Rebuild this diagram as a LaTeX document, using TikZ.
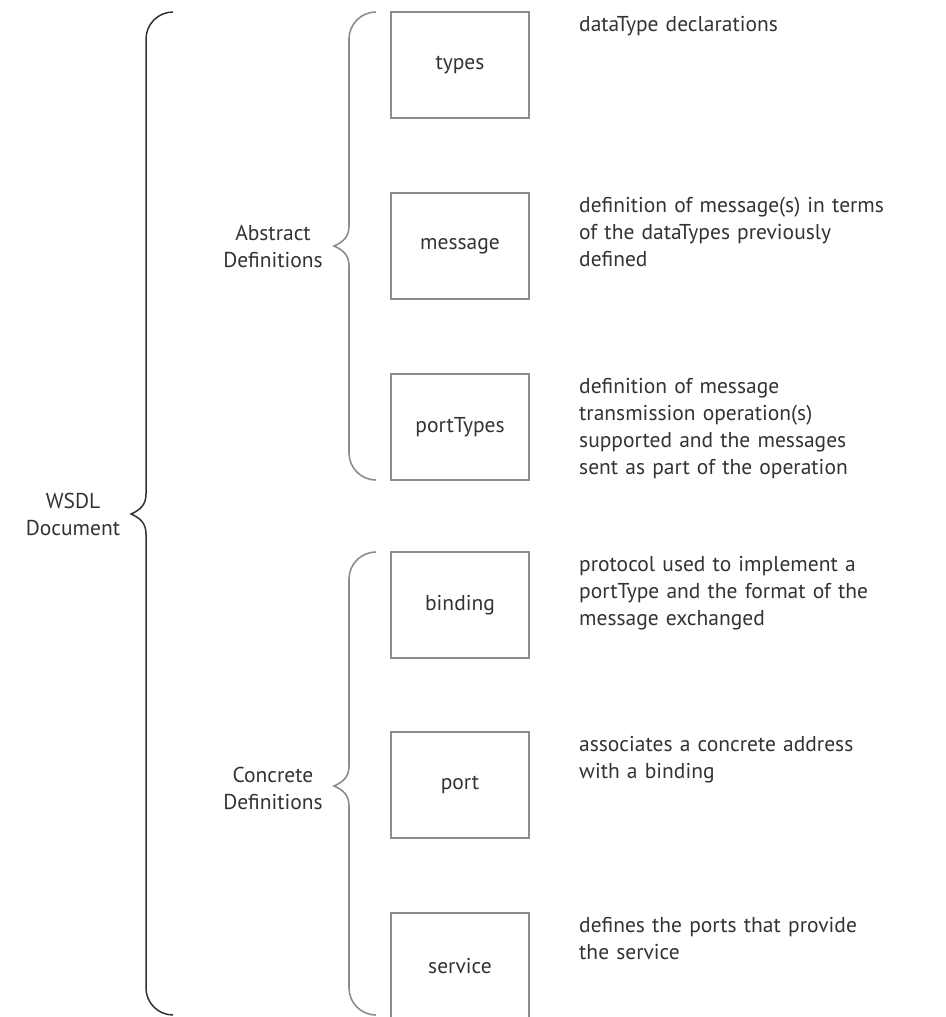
\documentclass[tikz,border=0pt]{standalone}
\usepackage{fontspec}
\setmainfont{PT Sans}
\usepackage{tikz}
\usetikzlibrary{positioning,calc}
\usepackage{xcolor}
\definecolor{ink}{HTML}{333333}
\definecolor{frame}{HTML}{8C8C8C}
\tikzset{
  part/.style  = {draw=frame, line width=1.5pt, rectangle, minimum width=138pt,
                  minimum height=106pt, align=center, text=ink},
  note/.style  = {anchor=base west, text width=360pt, align=left, inner sep=0pt, text=ink},
  group/.style = {align=center, inner sep=0pt, text=ink},
  curl/.style  = {line width=1.6pt, draw=frame},
}
% curly brace: style, line x, top y, bottom y, tip y, hook radius
\newcommand{\curly}[6]{%
  \draw[#1] (#2+#6,#3) .. controls (#2+0.45*#6,#3) and (#2,#3+0.45*#6) .. (#2,#3+#6)
    -- (#2,#5-20) .. controls (#2,#5-9) and (#2-6,#5-4) .. (#2-15,#5)
    .. controls (#2-6,#5+4) and (#2,#5+9) .. (#2,#5+20)
    -- (#2,#4-#6) .. controls (#2,#4-0.45*#6) and (#2+0.45*#6,#4) .. (#2+#6,#4);}

\begin{document}
\begin{tikzpicture}[x=1pt,y=-1pt,font=\fontsize{21.5}{27}\selectfont]
\useasboundingbox (0,0) rectangle (945,1017);
\clip (0,0) rectangle (945,1017);
% the six parts
\node[part] (types)     at (460,65)  {types};
\node[part] (message)   at (460,246) {message};
\node[part] (porttypes) at (460,427) {portTypes};
\node[part] (binding)   at (460,605) {binding};
\node[part] (port)      at (460,785) {port};
\node[part] (service)   at (460,966) {service};
% what each part holds
\node[note] (dtypes)     at (579,31)  {dataType declarations};
\node[note] (dmessage)   at (579,212) {definition of message(s) in terms\\of the dataTypes previously\\defined};
\node[note] (dporttypes) at (579,393) {definition of message\\transmission operation(s)\\supported and the messages\\sent as part of the operation};
\node[note] (dbinding)   at (579,571) {protocol used to implement a\\portType and the format of the\\message exchanged};
\node[note] (dport)      at (579,751) {associates a concrete address\\with a binding};
\node[note] (dservice)   at (579,932) {defines the ports that provide\\the service};
% groups
\node[group] (wsdl)     at (73,514)  {WSDL\\Document};
\node[group] (abstract) at (273,246) {Abstract\\Definitions};
\node[group] (concrete) at (273,788) {Concrete\\Definitions};
% braces
\curly{curl,draw=ink,line width=1.5pt}{146}{12}{1015}{514}{27}
\curly{curl}{349}{12}{480}{246}{27}
\curly{curl}{349}{552}{1015}{786}{27}
\end{tikzpicture}
\end{document}
